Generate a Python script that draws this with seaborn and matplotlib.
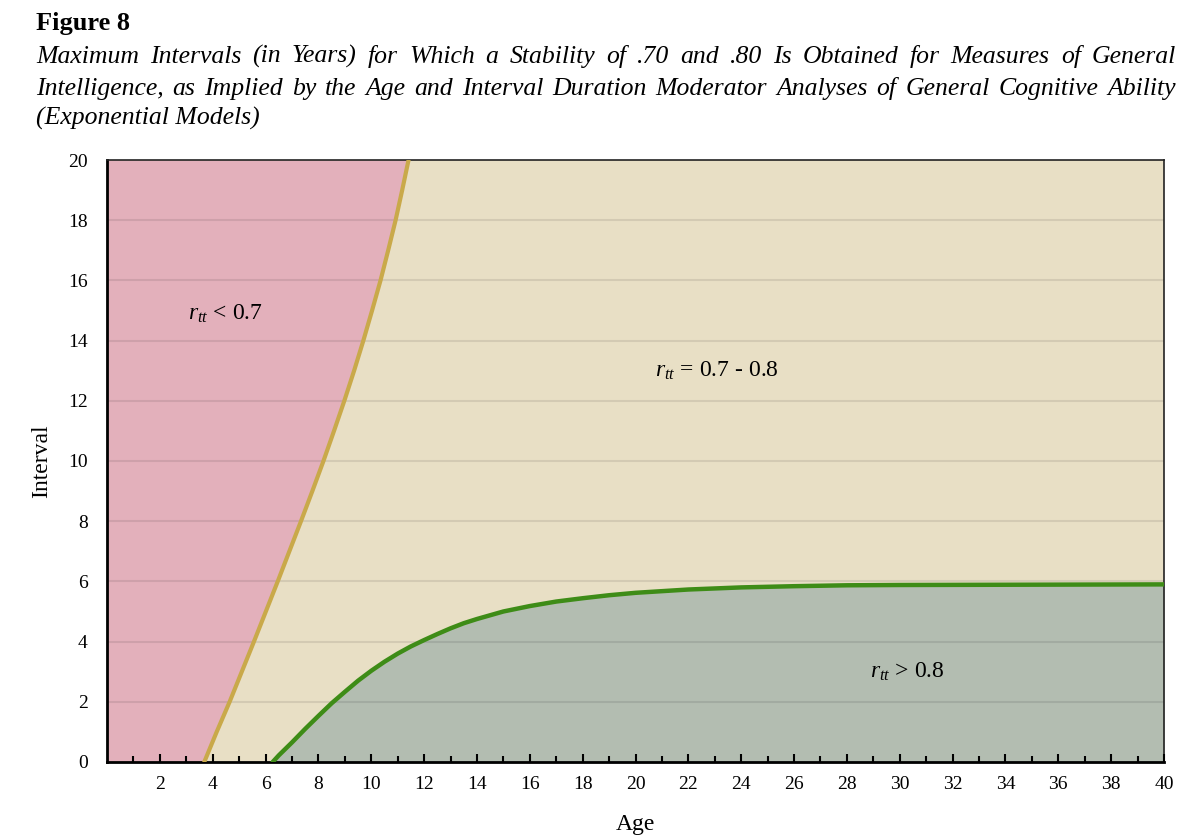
import matplotlib
matplotlib.use("Agg")
import matplotlib.pyplot as plt
import pandas as pd
import seaborn as sns

# data
orange_interval = [0, 1, 2, 3, 4, 5, 6, 7, 8, 9, 10, 11, 12, 13, 14, 15, 16, 17, 18, 19, 20]
orange_age = [3.68, 4.15, 4.64, 5.10, 5.56, 6.01, 6.46, 6.90, 7.34, 7.77, 8.19,
              8.59, 8.98, 9.35, 9.70, 10.03, 10.35, 10.64, 10.92, 11.17, 11.41]

green_age = [6.27, 6.5, 7, 7.5, 8, 8.5, 9, 9.5, 10, 10.5, 11, 11.5, 12, 12.5, 13, 13.5,
             14, 15, 16, 17, 18, 19, 20, 22, 24, 26, 28, 30, 35, 40]
green_interval = [0, 0.22, 0.65, 1.1, 1.53, 1.95, 2.33, 2.7, 3.03, 3.33, 3.6, 3.84,
                  4.05, 4.25, 4.44, 4.61, 4.75, 5.0, 5.18, 5.33, 5.44, 5.54, 5.62,
                  5.73, 5.8, 5.84, 5.87, 5.88, 5.89, 5.9]

x_ticks = list(range(2, 41, 2))
y_ticks = list(range(0, 21, 2))

title_main = "Figure 8"
title_lines = [
    "Maximum Intervals (in Years) for Which a Stability of .70 and .80 Is Obtained for Measures of General",
    "Intelligence, as Implied by the Age and Interval Duration Moderator Analyses of General Cognitive Ability",
    "(Exponential Models)",
]

df_orange = pd.DataFrame({"Age": orange_age, "Interval": orange_interval})
df_green = pd.DataFrame({"Age": green_age, "Interval": green_interval})

sns.set_theme(style="ticks")
plt.rcParams["font.family"] = ["Liberation Serif", "DejaVu Serif"]
plt.rcParams["mathtext.fontset"] = "custom"
plt.rcParams["mathtext.rm"] = "Liberation Serif"
plt.rcParams["mathtext.it"] = "Liberation Serif:italic"
plt.rcParams["text.color"] = "black"
plt.rcParams["axes.labelcolor"] = "black"
plt.rcParams["xtick.color"] = "black"
plt.rcParams["ytick.color"] = "black"

fig = plt.figure(figsize=(11.88, 8.4), dpi=100)
ax = fig.add_axes([0.0901, 0.0929, 0.8897, 0.7166])
ax.set_axisbelow(False)

ax.set_facecolor("#e8dfc5")
ax.fill_betweenx(df_orange["Interval"], 0, df_orange["Age"], color="#e3b0bb", lw=0, zorder=1)
ax.fill_between(df_green["Age"], 0, df_green["Interval"], color="#b3bdb1", lw=0, zorder=1)

for yv in y_ticks[1:-1]:
    ax.axhline(yv, color="black", alpha=0.09, lw=1.5, zorder=1.5)

sns.lineplot(data=df_orange, x="Age", y="Interval", sort=False, color="#c9a94a",
             lw=3, ax=ax, zorder=3)
sns.lineplot(data=df_green, x="Age", y="Interval", sort=False, color="#3e8c17",
             lw=3.2, ax=ax, zorder=3)

ax.set_xlim(0, 40)
ax.set_ylim(0, 20)
ax.set_xticks(x_ticks)
ax.set_xticks(range(1, 40, 2), minor=True)
ax.set_yticks(y_ticks)
ax.tick_params(axis="x", direction="in", length=6, width=1.5, labelsize=14, pad=10)
ax.tick_params(axis="x", which="minor", direction="in", length=4, width=1.5)
ax.tick_params(axis="y", length=0, labelsize=14, pad=14)

for side in ["left", "bottom"]:
    ax.spines[side].set_linewidth(2)
    ax.spines[side].set_color("black")
for side in ["top", "right"]:
    ax.spines[side].set_linewidth(1.2)
    ax.spines[side].set_color("#222222")

ax.set_xlabel("Age", fontsize=17, labelpad=15)
ax.set_ylabel("Interval", fontsize=17, labelpad=11)

ax.text(4.5, 14.9, r"$r_{tt}$ < 0.7", fontsize=17, ha="center", va="center")
ax.text(23.1, 13.0, r"$r_{tt}$ = 0.7 - 0.8", fontsize=17, ha="center", va="center")
ax.text(30.3, 3.0, r"$r_{tt}$ > 0.8", fontsize=17, ha="center", va="center")

# title block, justified like the source page
W, H = 1188, 840
fig.text(36 / W, 1 - 30 / H, title_main, fontsize=19, fontweight="bold", va="baseline")
renderer = fig.canvas.get_renderer()
baselines = [63, 95, 125]
for i, line in enumerate(title_lines):
    yb = 1 - baselines[i] / H
    if i == len(title_lines) - 1:
        fig.text(36 / W, yb, line, fontsize=18.5, style="italic", va="baseline")
        continue
    words = line.split(" ")
    texts = [fig.text(0, yb, w, fontsize=18.5, style="italic", va="baseline") for w in words]
    widths = [t.get_window_extent(renderer).width for t in texts]
    gap = (1176 - 36 - sum(widths)) / (len(words) - 1)
    xpos = 36
    for t, w in zip(texts, widths):
        t.set_x(xpos / W)
        xpos += w + gap

fig.savefig("out.png", dpi=100)
plt.close(fig)
